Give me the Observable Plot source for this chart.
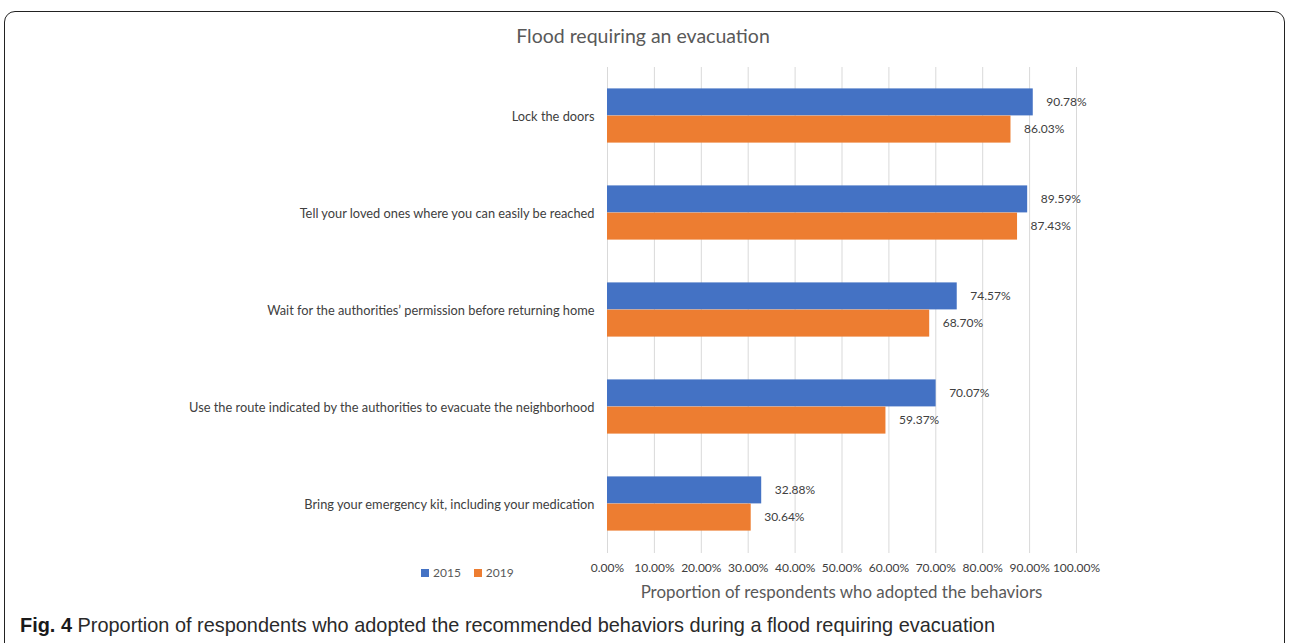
<!DOCTYPE html>
<html>
<head>
<meta charset="utf-8">
<script src="https://cdn.jsdelivr.net/npm/d3@7"></script>
<script src="https://cdn.jsdelivr.net/npm/@observablehq/plot@0.6"></script>
<style>
  html, body { margin: 0; padding: 0; background: #fff; }
  body { width: 1290px; height: 643px; position: relative; overflow: hidden; font-family: Lato, sans-serif; }
  #box { position: absolute; left: 4px; top: 11px; width: 1281px; height: 660px; border: 1.6px solid #222; border-radius: 11px; box-sizing: border-box; }
  #title { position: absolute; left: 0; width: 1286px; top: 24px; text-align: center; font-size: 19.5px; color: #595959; }
  #chart { position: absolute; left: 0; top: 0; }
  #legend { position: absolute; left: 421px; top: 565px; font-size: 12px; color: #595959; display: flex; gap: 13px; }
  #legend span.sw { display: inline-block; width: 8px; height: 8px; margin-right: 4px; vertical-align: 0px; }
  #xtitle { position: absolute; left: 607px; width: 469px; top: 581px; text-align: center; font-size: 16.9px; color: #595959; }
  #caption { position: absolute; left: 20px; top: 613px; font-family: "Liberation Sans", Arial, sans-serif; font-size: 21px; color: #2a2a2a; white-space: nowrap; transform: scaleX(0.948); transform-origin: left center; }
  #caption b { color: #1a1a1a; }
</style>
</head>
<body>
<div id="box"></div>
<div id="title">Flood requiring an evacuation</div>
<div id="chart"></div>
<div id="legend"></div>
<div id="xtitle">Proportion of respondents who adopted the behaviors</div>
<div id="caption"><b>Fig. 4</b> Proportion of respondents who adopted the recommended behaviors during a flood requiring evacuation</div>
<script>
const categories = [
  "Lock the doors",
  "Tell your loved ones where you can easily be reached",
  "Wait for the authorities’ permission before returning home",
  "Use the route indicated by the authorities to evacuate the neighborhood",
  "Bring your emergency kit, including your medication"
];
const series = ["2015", "2019"];
const values2015 = [90.78, 89.59, 74.57, 70.07, 32.88];
const values2019 = [86.03, 87.43, 68.70, 59.37, 30.64];
const xTicks = [0, 10, 20, 30, 40, 50, 60, 70, 80, 90, 100];
const colors = ["#4472C4", "#ED7D31"];

const rows2015 = categories.map((c, i) => ({category: c, year: "2015", value: values2015[i]}));
const rows2019 = categories.map((c, i) => ({category: c, year: "2019", value: values2019[i]}));

const band = 486 / categories.length;      // px per category
const barH = 27.2;
const outer = (band - 2 * barH) / 2 - 1;

const fmt = v => v.toFixed(2) + "%";

const chart = Plot.plot({
  width: 1290,
  height: 643,
  marginLeft: 607,
  marginRight: 214,
  marginTop: 67,
  marginBottom: 90,
  style: { fontFamily: "Lato, sans-serif", fontSize: "12px", color: "#404040", background: "transparent" },
  x: { domain: [0, 100], ticks: xTicks, tickFormat: fmt, tickSize: 0, tickPadding: 10, label: null },
  y: { domain: categories, padding: 0, tickSize: 0, tickPadding: 13, label: null },
  marks: [
    Plot.ruleX(xTicks, { stroke: "#d9d9d9", strokeWidth: 1 }),
    Plot.barX(rows2015, { x: "value", y: "category", fill: colors[0], insetTop: outer, insetBottom: band - outer - barH }),
    Plot.barX(rows2019, { x: "value", y: "category", fill: colors[1], insetTop: outer + barH, insetBottom: band - outer - 2 * barH }),
    Plot.text(rows2015, { x: "value", y: "category", text: d => fmt(d.value), textAnchor: "start", dx: 13, dy: -barH / 2 - 1, fill: "#404040", fontSize: 12 }),
    Plot.text(rows2019, { x: "value", y: "category", text: d => fmt(d.value), textAnchor: "start", dx: 13, dy: barH / 2 - 1, fill: "#404040", fontSize: 12 })
  ]
});
chart.querySelectorAll("g[aria-label='y-axis tick label'] text").forEach(t => t.setAttribute("font-size", "12.8"));
document.getElementById("chart").appendChild(chart);

const legend = document.getElementById("legend");
series.forEach((s, i) => {
  const item = document.createElement("div");
  item.innerHTML = `<span class="sw" style="background:${colors[i]}"></span>${s}`;
  legend.appendChild(item);
});
</script>
</body>
</html>
